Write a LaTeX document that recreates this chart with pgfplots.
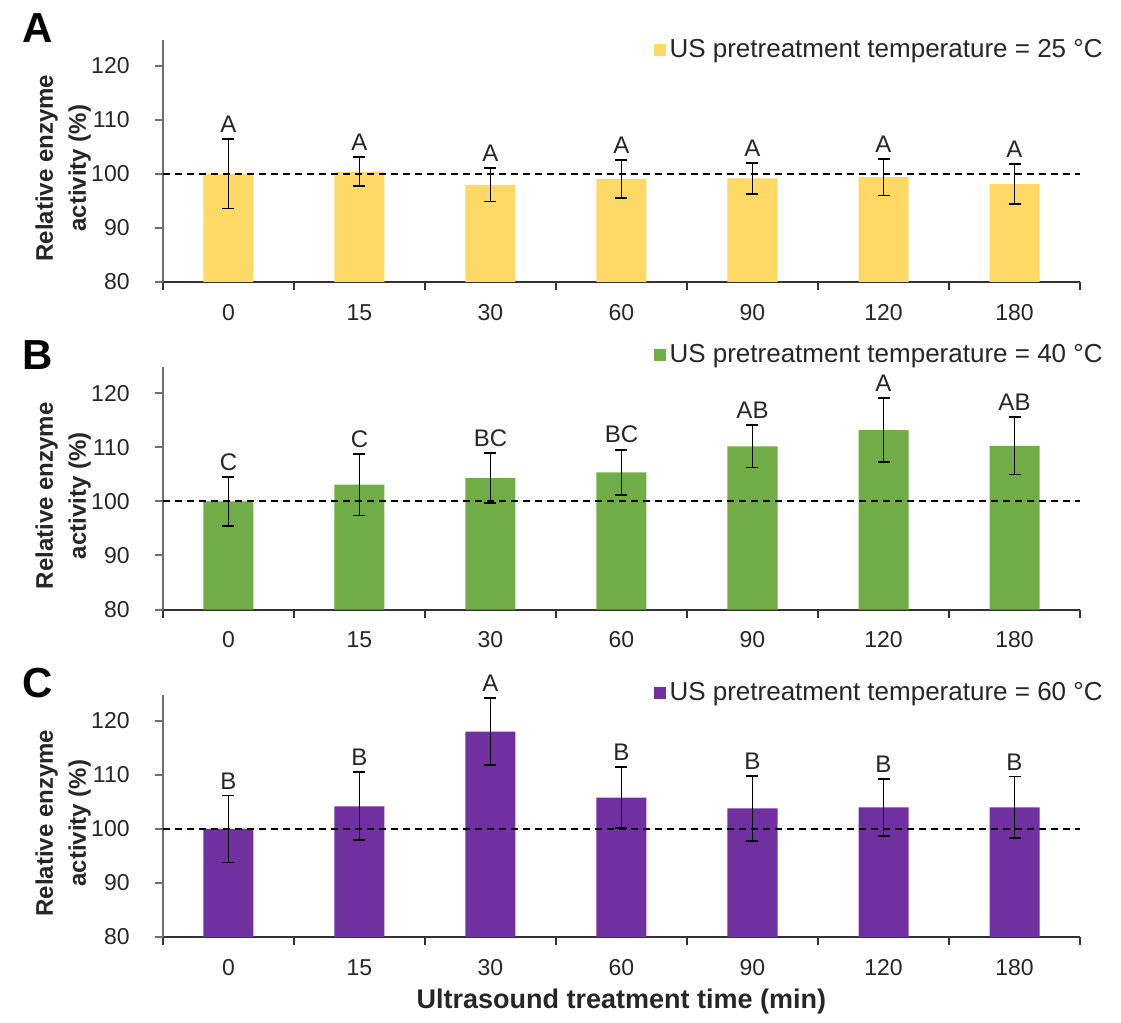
\documentclass[border=0pt]{standalone}
\usepackage{pgfplots}
\pgfplotsset{compat=1.18}
\usepackage{pgfplotstable}
\usepackage{fontspec}
\setmainfont{Liberation Sans}
\definecolor{cA}{HTML}{FFD966}
\definecolor{cB}{HTML}{70AD47}
\definecolor{cC}{HTML}{7030A0}
\definecolor{axgray}{HTML}{6E6E6E}
\definecolor{txt}{HTML}{262626}

% x = category index (0,15,30,60,90,120,180 min), v = relative activity (%), e = error, lab = letter
\pgfplotstableread{
x v e lab
0 100.0 6.4 A
1 100.4 2.7 A
2 98.0 3.1 A
3 99.1 3.5 A
4 99.2 2.9 A
5 99.4 3.4 A
6 98.1 3.7 A
}\dataA
\pgfplotstableread{
x v e lab
0 100.0 4.5 C
1 103.1 5.7 C
2 104.3 4.6 BC
3 105.4 4.2 BC
4 110.2 3.9 AB
5 113.2 5.9 A
6 110.3 5.3 AB
}\dataB
\pgfplotstableread{
x v e lab
0 100.0 6.2 B
1 104.2 6.3 B
2 118.0 6.2 A
3 105.8 5.6 B
4 103.8 6.0 B
5 104.0 5.3 B
6 104.0 5.7 B
}\dataC

\pgfplotsset{
  panel/.style={
    width=458.5pt, height=121pt, scale only axis,
    xmin=-0.5, xmax=6.5, ymin=0, ymax=44.8,
    axis lines=left,
    x axis line style={-, line width=1pt, draw=black!80},
    y axis line style={-, line width=1.3pt, draw=axgray},
    tick align=outside,
    xtick={-0.5,0.5,...,6.5},
    x tick label as interval,
    xticklabels={0,15,30,60,90,120,180},
    ytick={0,10,20,30,40}, yticklabels={80,90,100,110,120},
    xtick style={line width=1pt, draw=black!80},
    ytick style={line width=1pt, draw=axgray},
    major tick length=4pt,
    tick label style={font=\fontsize{11.5}{12}\selectfont, text=txt},
    xticklabel style={anchor=north, inner sep=0pt, yshift=-6.9pt},
    yticklabel style={anchor=east, inner sep=0pt, xshift=-12.5pt},
    /pgf/number format/assume math mode=true,
    clip=false,
    ylabel={Relative enzyme\\activity (\%)},
    every axis y label/.style={at={(axis description cs:-0.109,0.47)}, rotate=90, anchor=center, align=center, font=\bfseries\fontsize{12}{16.5}\selectfont, text=txt},
    legend style={draw=none, fill=none, inner sep=0pt, font=\fontsize{13}{13}\selectfont, text=txt, legend cell align=left},
    legend image code/.code={\fill[##1,/tikz/.cd,draw=none] (0pt,-3pt) rectangle (6pt,3pt);},
  },
  bars/.style={ybar, bar width=25pt, fill=#1, draw=none,
    error bars/.cd, y dir=both, y explicit,
    error bar style={line width=0.9pt, black},
    error mark options={rotate=90, mark size=3pt, line width=0.9pt, black}},
  letters/.style={draw=none, forget plot, nodes near coords, point meta=explicit symbolic,
    every node near coord/.append style={anchor=south, inner sep=0pt, yshift=3pt, font=\fontsize{12}{12}\selectfont, text=txt}},
  refline/.style={forget plot, black, line width=1pt, dash pattern=on 3.5pt off 2.5pt},
}

\begin{document}
\begin{tikzpicture}
\path[use as bounding box] (-81.5pt,141pt) rectangle (479pt,-370.5pt);

\begin{axis}[panel, at={(0pt,0pt)}, anchor=south west,
  legend style={at={(1.0295,0.959)}, anchor=east}]
\addplot[bars=cA] table[x=x, y expr=\thisrow{v}-80, y error=e] {\dataA};
\addlegendentry{US pretreatment temperature = 25 °C}
\addplot[refline] coordinates {(-0.5,20) (6.5,20)};
\addplot[letters] table[x=x, y expr=\thisrow{v}+\thisrow{e}-80, meta=lab] {\dataA};
\end{axis}
\node[font=\bfseries\fontsize{21}{21}\selectfont, text=black] at (-62.5pt,127pt) {A};

\begin{axis}[panel, at={(0pt,-163.75pt)}, anchor=south west,
  legend style={at={(1.0295,1.052)}, anchor=east}]
\addplot[bars=cB] table[x=x, y expr=\thisrow{v}-80, y error=e] {\dataB};
\addlegendentry{US pretreatment temperature = 40 °C}
\addplot[refline] coordinates {(-0.5,20) (6.5,20)};
\addplot[letters] table[x=x, y expr=\thisrow{v}+\thisrow{e}-80, meta=lab] {\dataB};
\end{axis}
\node[font=\bfseries\fontsize{21}{21}\selectfont, text=black] at (-62.5pt,-36.75pt) {B};

\begin{axis}[panel, at={(0pt,-327.5pt)}, anchor=south west,
  legend style={at={(1.0295,1.008)}, anchor=east},
  xlabel={Ultrasound treatment time (min)},
  every axis x label/.style={at={(axis description cs:0.5,0)}, anchor=center, yshift=-32.5pt, font=\bfseries\fontsize{13.5}{14}\selectfont, text=txt}]
\addplot[bars=cC] table[x=x, y expr=\thisrow{v}-80, y error=e] {\dataC};
\addlegendentry{US pretreatment temperature = 60 °C}
\addplot[refline] coordinates {(-0.5,20) (6.5,20)};
\addplot[letters] table[x=x, y expr=\thisrow{v}+\thisrow{e}-80, meta=lab] {\dataC};
\end{axis}
\node[font=\bfseries\fontsize{21}{21}\selectfont, text=black] at (-62.5pt,-200.5pt) {C};
\end{tikzpicture}
\end{document}
